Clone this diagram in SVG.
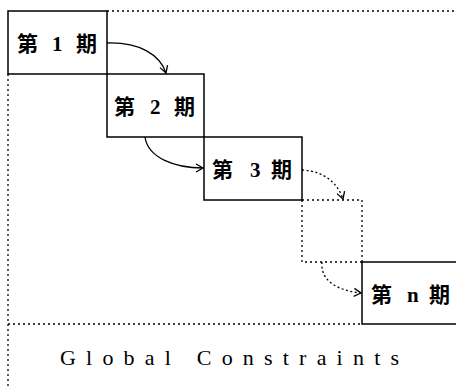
<svg xmlns="http://www.w3.org/2000/svg" width="456" height="386" viewBox="0 0 456 386">
<style>
.box{fill:none;stroke:#000;stroke-width:1.5}
.dot{fill:none;stroke:#000;stroke-width:1.3;stroke-dasharray:2 3}
.lbl{font-family:"Liberation Serif","Noto Sans CJK JP","Noto Sans CJK SC",serif;font-size:21px;font-weight:bold;fill:#000}
.arr{fill:none;stroke:#000;stroke-width:1.3}
.arrd{fill:none;stroke:#000;stroke-width:1.3;stroke-dasharray:2 2.5}
</style>
<defs>
<marker id="ah" markerWidth="10" markerHeight="10" refX="8" refY="5" orient="auto" markerUnits="userSpaceOnUse">
<polyline points="1,1 8,5 1,9" fill="none" stroke="#000" stroke-width="1.3"/>
</marker>
</defs>
<rect width="456" height="386" fill="#fff"/>
<g id="frame">
<line class="dot" x1="107" y1="11" x2="456" y2="11"/>
<line class="dot" x1="8" y1="74" x2="8" y2="386"/>
<line class="dot" x1="8" y1="324" x2="362" y2="324"/>
</g>
<g id="p1"><rect class="box" x="8" y="11" width="99" height="63"/><text class="lbl" y="51"><tspan x="17">第</tspan><tspan x="52">1</tspan><tspan x="76">期</tspan></text></g>
<g id="p2"><rect class="box" x="107" y="74" width="97" height="63"/><text class="lbl" y="114"><tspan x="114">第</tspan><tspan x="150">2</tspan><tspan x="174">期</tspan></text></g>
<g id="p3"><rect class="box" x="204" y="137" width="98" height="63"/><text class="lbl" y="177"><tspan x="212">第</tspan><tspan x="250">3</tspan><tspan x="271">期</tspan></text></g>
<g id="pdots"><path class="dot" d="M302 200 H362 V262 M302 200 V262 H362"/></g>
<g id="pn"><path class="box" d="M456 262 H362 V324 H456"/><text class="lbl" y="302"><tspan x="371">第</tspan><tspan x="407">n</tspan><tspan x="429">期</tspan></text></g>
<g id="connectors">
<path class="arr" d="M107 43 C140 42 160 55 166 73" marker-end="url(#ah)"/>
<path class="arr" d="M145 137 C148 158 175 168 203 168" marker-end="url(#ah)"/>
<path class="arrd" d="M302 170 C325 171 338 184 343 199" marker-end="url(#ah)"/>
<path class="arrd" d="M322 262 C320 282 340 291 361 293" marker-end="url(#ah)"/>
</g>
<g id="global"><text x="60" y="365" font-family="Liberation Serif,serif" font-size="22" letter-spacing="10.2" xml:space="preserve">Global Constraints</text></g>
</svg>
